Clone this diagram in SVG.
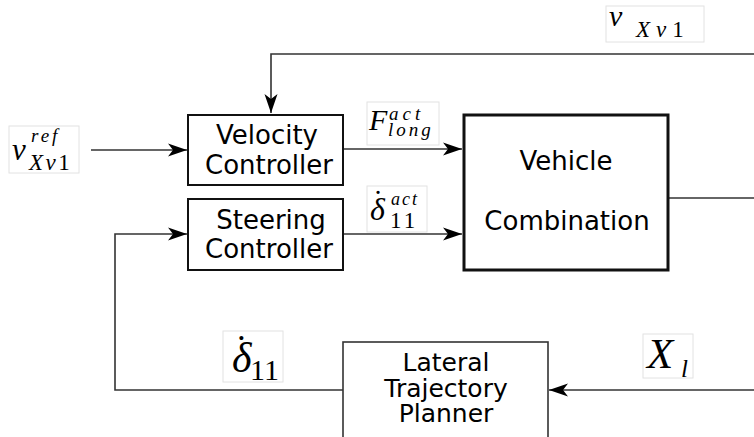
<svg xmlns="http://www.w3.org/2000/svg" width="754" height="437" viewBox="0 0 754 437">
<style>
.box{fill:#fff;stroke:#111;stroke-width:2}
.lbl{font-family:"DejaVu Sans",Verdana,sans-serif;fill:#000;text-anchor:middle}
.line{fill:none;stroke:#333;stroke-width:1.6}
.mbox{fill:#fff;stroke:#e2e2e2;stroke-width:1}
.m{font-family:"Liberation Serif","Times New Roman",serif;font-style:italic;fill:#000}
.mr{font-style:normal}
</style>
<defs>
<marker id="ah" markerUnits="userSpaceOnUse" markerWidth="24" markerHeight="16" viewBox="-20 -8 22 16" refX="0" refY="0" orient="auto">
<path d="M0,0 L-19,-6.5 L-14,0 L-19,6.5 Z" fill="#000"/>
</marker>
</defs>
<rect width="754" height="437" fill="#fff"/>

<g id="connectors">
<path class="line" d="M754,54 H271 V113" marker-end="url(#ah)"/>
<path class="line" d="M91,150 H187" marker-end="url(#ah)"/>
<path class="line" d="M343,149 H462" marker-end="url(#ah)"/>
<path class="line" d="M343,234 H462" marker-end="url(#ah)"/>
<path class="line" d="M669,198 H754"/>
<path class="line" d="M343,390 H115 V234 H187" marker-end="url(#ah)"/>
<path class="line" d="M754,390 H549" marker-end="url(#ah)"/>
</g>

<g id="velocity-controller">
<rect class="box" x="188" y="115" width="155" height="70"/>
<text class="lbl" font-size="26" x="267" y="144">Velocity</text>
<text class="lbl" font-size="26" x="269" y="174">Controller</text>
</g>

<g id="steering-controller">
<rect class="box" x="188" y="199" width="155" height="71"/>
<text class="lbl" font-size="26" x="271" y="229">Steering</text>
<text class="lbl" font-size="26" x="269" y="258">Controller</text>
</g>

<g id="vehicle-combination">
<rect class="box" style="stroke-width:3" x="464" y="115" width="204" height="155"/>
<text class="lbl" font-size="26" x="566" y="170">Vehicle</text>
<text class="lbl" font-size="26" x="567" y="230">Combination</text>
</g>

<g id="lateral-trajectory-planner">
<rect class="box" style="stroke:#333;stroke-width:1.6" x="343" y="342" width="205" height="110"/>
<text class="lbl" font-size="25" x="446" y="371">Lateral</text>
<text class="lbl" font-size="25" x="446" y="397">Trajectory</text>
<text class="lbl" font-size="25" x="446" y="422">Planner</text>
</g>

<g id="label-v-ref">
<rect class="mbox" x="9" y="126" width="70" height="47"/>
<text class="m"><tspan x="12" y="160" font-size="31">v</tspan><tspan x="31" y="142" font-size="19" letter-spacing="3">ref</tspan><tspan x="29" y="170" font-size="23" letter-spacing="2.5">Xv<tspan class="mr">1</tspan></tspan></text>
</g>

<g id="label-v-top">
<rect class="mbox" x="606" y="6" width="98" height="36"/>
<text class="m"><tspan x="609" y="26" font-size="30" letter-spacing="0">v</tspan><tspan x="636" y="37" font-size="23" letter-spacing="6">Xv<tspan class="mr">1</tspan></tspan></text>
</g>

<g id="label-F">
<rect class="mbox" x="367" y="102" width="72" height="43"/>
<text class="m"><tspan x="369" y="130" font-size="30">F</tspan><tspan x="389" y="120" font-size="19" letter-spacing="4">act</tspan><tspan x="388" y="136" font-size="19" letter-spacing="3">long</tspan></text>
</g>

<g id="label-delta-act">
<rect class="mbox" x="367" y="186" width="60" height="46"/>
<text class="m"><tspan x="370" y="220" font-size="32">δ</tspan><tspan class="mr" x="373" y="211" font-size="30">˙</tspan><tspan x="391" y="205" font-size="18" letter-spacing="2">act</tspan><tspan class="mr" x="390" y="228" font-size="23" letter-spacing="3">11</tspan></text>
</g>

<g id="label-delta">
<rect class="mbox" x="223" y="331" width="60" height="51"/>
<text class="m"><tspan x="232" y="372" font-size="42">δ</tspan><tspan class="mr" x="235" y="361" font-size="38">˙</tspan><tspan class="mr" x="250" y="380" font-size="30">11</tspan></text>
</g>

<g id="label-X">
<rect class="mbox" x="643" y="334" width="50" height="44"/>
<text class="m"><tspan x="647" y="368" font-size="43">X</tspan><tspan x="681" y="377" font-size="25">l</tspan></text>
</g>
</svg>
